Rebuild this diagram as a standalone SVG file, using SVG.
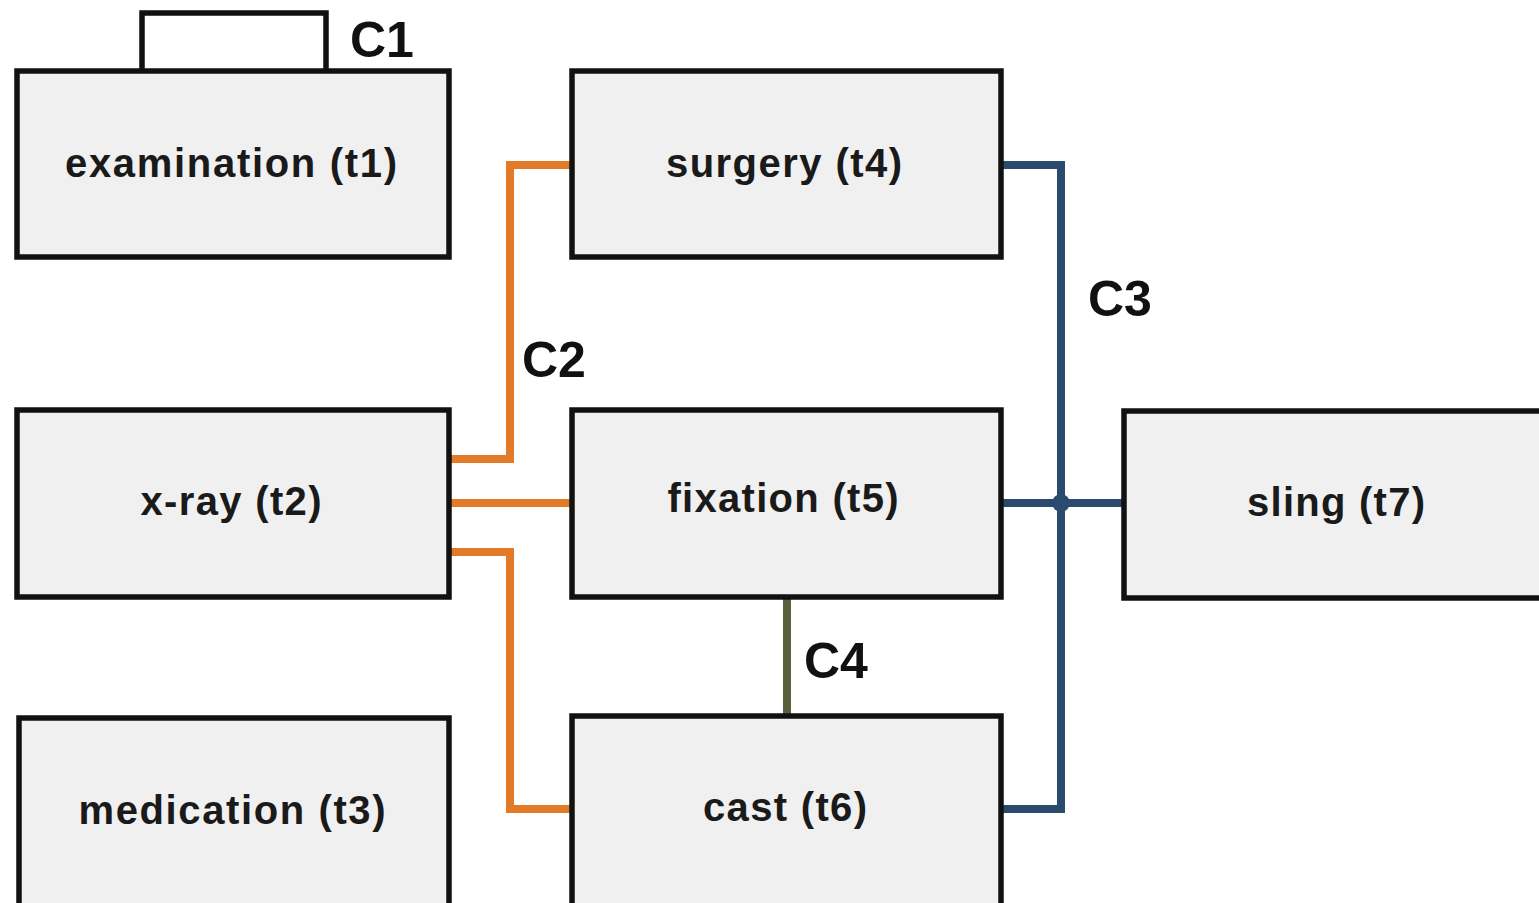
<svg xmlns="http://www.w3.org/2000/svg" width="1539" height="903" viewBox="0 0 1539 903">
  <style>
    .box { fill: #f0f0f0; stroke: #111; stroke-width: 5.5; }
    .lbl { font-family: "Liberation Sans", Arial, sans-serif; font-weight: bold; font-size: 40px; fill: #1a1a1a; text-anchor: middle; }
    .cid { font-family: "Liberation Sans", Arial, sans-serif; font-weight: bold; font-size: 50px; fill: #111; }
    .c2 { fill: none; stroke: #e27a27; stroke-width: 8; }
    .c3 { fill: none; stroke: #2b4a6f; stroke-width: 8; }
    .c4 { fill: none; stroke: #5b5e3a; stroke-width: 8; }
  </style>
  <rect width="1539" height="903" fill="#ffffff"/>

  <!-- connectors -->
  <g id="connectors">
    <!-- C2: x-ray to surgery / fixation / cast -->
    <path class="c2" d="M449,459 H510 V165 H572"/>
    <path class="c2" d="M449,503 H572"/>
    <path class="c2" d="M449,552 H510 V809 H572"/>
    <!-- C3: surgery / fixation / cast to sling -->
    <path class="c3" d="M1001,165 H1061 V809 H1001"/>
    <path class="c3" d="M1001,503 H1124"/>
    <circle cx="1061" cy="503" r="9" fill="#2b4a6f"/>
    <!-- C4: fixation to cast -->
    <path class="c4" d="M787,597 V716"/>
    <!-- C1: self loop tab on examination -->
    <path d="M142,71 V13 H326 V71" fill="none" stroke="#111" stroke-width="5.5"/>
    <text class="cid" x="350" y="57">C1</text>
    <text class="cid" x="522" y="377">C2</text>
    <text class="cid" x="1088" y="316">C3</text>
    <text class="cid" x="804" y="678">C4</text>
  </g>

  <g id="t1">
    <rect class="box" x="17" y="71" width="432" height="186"/>
    <text class="lbl" x="231" y="177" textLength="332" lengthAdjust="spacing">examination (t1)</text>
  </g>
  <g id="t4">
    <rect class="box" x="572" y="71" width="429" height="186"/>
    <text class="lbl" x="784" y="177" textLength="236" lengthAdjust="spacing">surgery (t4)</text>
  </g>
  <g id="t2">
    <rect class="box" x="17" y="410" width="432" height="187"/>
    <text class="lbl" x="231" y="515" textLength="181" lengthAdjust="spacing">x-ray (t2)</text>
  </g>
  <g id="t5">
    <rect class="box" x="572" y="410" width="429" height="187"/>
    <text class="lbl" x="783" y="512" textLength="231" lengthAdjust="spacing">fixation (t5)</text>
  </g>
  <g id="t7">
    <rect class="box" x="1124" y="411" width="430" height="187"/>
    <text class="lbl" x="1336" y="516" textLength="178" lengthAdjust="spacing">sling (t7)</text>
  </g>
  <g id="t3">
    <rect class="box" x="19" y="718" width="430" height="200"/>
    <text class="lbl" x="232" y="824" textLength="307" lengthAdjust="spacing">medication (t3)</text>
  </g>
  <g id="t6">
    <rect class="box" x="572" y="716" width="429" height="200"/>
    <text class="lbl" x="785" y="821" textLength="164" lengthAdjust="spacing">cast (t6)</text>
  </g>
</svg>
